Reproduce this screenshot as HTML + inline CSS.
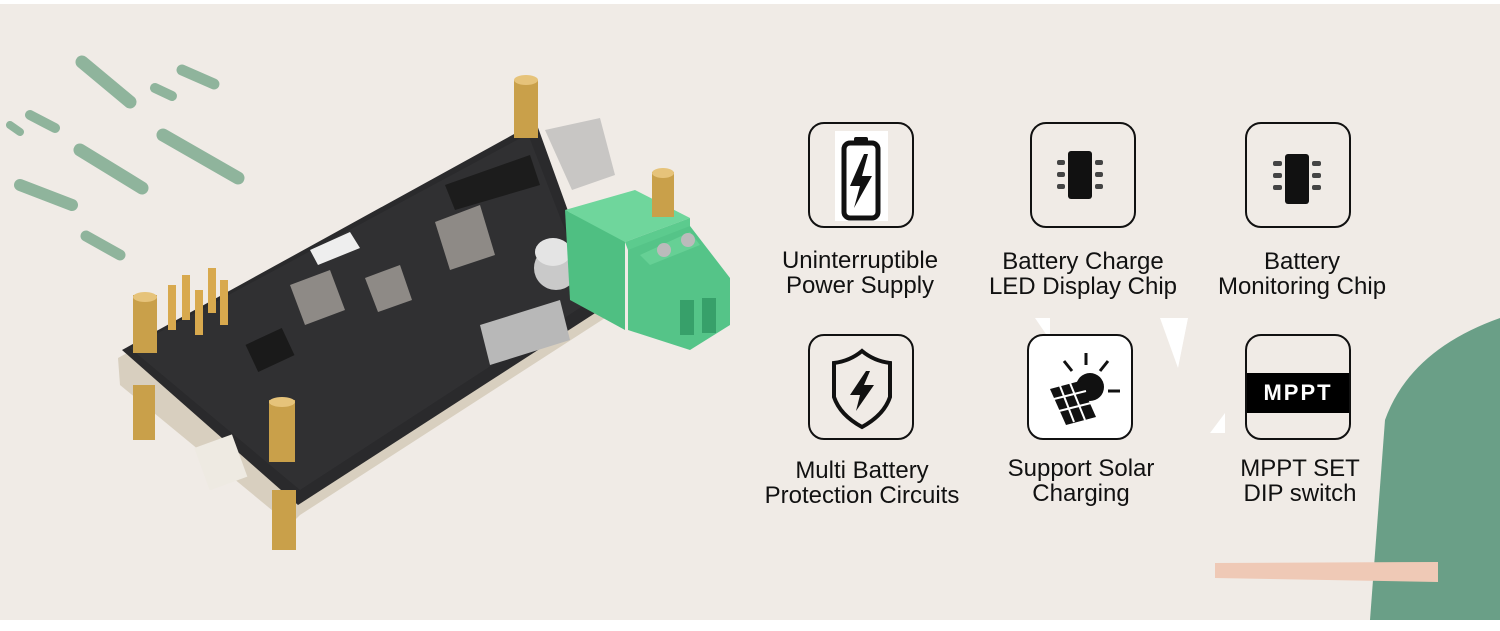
<!DOCTYPE html>
<html><head><meta charset="utf-8"><style>
html,body{margin:0;padding:0}
body{width:1500px;height:631px;position:relative;overflow:hidden;background:#fff;font-family:"Liberation Sans",Arial,sans-serif}
#bg{position:absolute;left:0;top:4px;width:1500px;height:616px;background:#f0ebe6}
.box{position:absolute;width:106px;height:106px;border:2px solid #111;border-radius:16px;box-sizing:border-box;background:transparent}
.lbl{position:absolute;width:260px;text-align:center;font-size:24px;line-height:25px;color:#111}
</style></head><body>
<div id="bg"></div>
<svg width="1500" height="631" style="position:absolute;left:0;top:0">
 <g stroke="#8fb49c" stroke-linecap="round" fill="none">
  <path d="M82 62 L130 102" stroke-width="13"/>
  <path d="M155 88 L172 96" stroke-width="10"/>
  <path d="M182 70 L214 84" stroke-width="11"/>
  <path d="M163 135 L238 178" stroke-width="13"/>
  <path d="M80 150 L142 188" stroke-width="13"/>
  <path d="M10 125 L20 132" stroke-width="8"/>
  <path d="M30 115 L55 128" stroke-width="10"/>
  <path d="M20 185 L72 205" stroke-width="12"/>
  <path d="M86 236 L120 255" stroke-width="11"/>
 </g>
 <path d="M1370 620 L1385 420 Q1410 350 1500 318 L1500 620 Z" fill="#6a9f87"/>
 <path d="M1215 563 L1438 562 L1438 582 L1215 578 Z" fill="#efc9b6"/>
 <path d="M1160 318 L1188 318 L1178 368 Z" fill="#fff"/>
 <path d="M1035 318 L1050 318 L1050 340 Z" fill="#fff"/>
 <path d="M1225 413 L1225 433 L1210 433 Z" fill="#fff"/>
 <!-- board -->
 <polygon points="118,358 536,128 605,318 300,515 290,525 120,385" fill="#d8cfbf"/>
 <polygon points="122,350 536,122 603,308 298,505" fill="#2a2a2c"/>
 <polygon points="130,348 528,134 592,300 300,490" fill="#303032"/>
 <g fill="#8e8a86"><polygon points="290,285 330,270 345,310 305,325"/><polygon points="365,278 400,265 412,300 378,312"/><polygon points="435,222 480,205 495,255 450,270"/></g>
 <polygon points="445,185 530,155 540,185 455,210" fill="#1c1c1c"/>
 <polygon points="310,250 350,232 360,248 318,265" fill="#eee"/>
 <rect x="250" y="335" width="40" height="30" fill="#1a1a1a" transform="rotate(-25 270 350)"/>
 <polygon points="480,325 560,300 570,340 490,365" fill="#b8b8b8"/>
 <ellipse cx="556" cy="268" rx="22" ry="22" fill="#c9c9c9"/><ellipse cx="553" cy="252" rx="18" ry="14" fill="#e4e4e4"/>
 <polygon points="545,130 600,118 615,175 572,190" fill="#c8c6c4"/>
 <!-- terminal -->
 <polygon points="565,210 625,240 625,330 570,300" fill="#4fbf82"/>
 <polygon points="565,210 635,190 690,218 625,242" fill="#6fd69c"/>
 <polygon points="625,242 690,218 690,232 640,255 628,250" fill="#5ccb8e"/>
 <polygon points="628,250 690,226 730,278 730,325 690,350 628,330" fill="#55c488"/>
 <polygon points="640,255 690,232 700,245 650,265" fill="#66d095"/>
 <rect x="680" y="300" width="14" height="35" fill="#37a06a"/><rect x="702" y="298" width="14" height="35" fill="#37a06a"/>
 <circle cx="664" cy="250" r="7" fill="#bbb"/><circle cx="688" cy="240" r="7" fill="#bbb"/>
 <g fill="#d8a94e"><rect x="168" y="285" width="8" height="45"/><rect x="182" y="275" width="8" height="45"/><rect x="195" y="290" width="8" height="45"/><rect x="208" y="268" width="8" height="45"/><rect x="220" y="280" width="8" height="45"/></g>
 <g fill="#c9a04a">
  <rect x="133" y="295" width="24" height="58"/><rect x="133" y="385" width="22" height="55"/>
  <rect x="269" y="400" width="26" height="62"/><rect x="272" y="490" width="24" height="60"/>
  <rect x="514" y="80" width="24" height="58"/>
  <rect x="652" y="172" width="22" height="45"/>
 </g>
 <g fill="#e6c37a"><ellipse cx="145" cy="297" rx="12" ry="5"/><ellipse cx="282" cy="402" rx="13" ry="5"/><ellipse cx="526" cy="80" rx="12" ry="5"/><ellipse cx="663" cy="173" rx="11" ry="5"/></g>
 <rect x="200" y="440" width="40" height="45" fill="#eeeae2" transform="rotate(-20 220 460)"/>
</svg>
<div class="box" style="left:808px;top:122px"></div>
<div style="position:absolute;left:835px;top:131px;width:53px;height:90px;background:#fff"></div>
<svg width="60" height="100" style="position:absolute;left:832px;top:130px">
 <rect x="22" y="7" width="14" height="6" rx="2" fill="#111"/>
 <rect x="12" y="13" width="34" height="75" rx="6" fill="none" stroke="#111" stroke-width="5"/>
 <polygon points="32,24 18,56 28,56 22,78 40,46 30,46 36,24" fill="#111"/>
</svg>
<div class="box" style="left:1030px;top:122px"></div>
<svg width="60" height="60" style="position:absolute;left:1053px;top:145px"><rect x="15" y="6" width="24" height="48" rx="3" fill="#111"/><g fill="#444"><rect x="4" y="15" width="8" height="5" rx="2"/><rect x="4" y="27" width="8" height="5" rx="2"/><rect x="4" y="39" width="8" height="5" rx="2"/><rect x="42" y="15" width="8" height="5" rx="2"/><rect x="42" y="27" width="8" height="5" rx="2"/><rect x="42" y="39" width="8" height="5" rx="2"/></g></svg>
<div class="box" style="left:1245px;top:122px"></div>
<svg width="60" height="60" style="position:absolute;left:1270px;top:152px"><rect x="15" y="2" width="24" height="50" rx="3" fill="#111"/><g fill="#444"><rect x="3" y="9" width="9" height="5" rx="2"/><rect x="3" y="21" width="9" height="5" rx="2"/><rect x="3" y="33" width="9" height="5" rx="2"/><rect x="42" y="9" width="9" height="5" rx="2"/><rect x="42" y="21" width="9" height="5" rx="2"/><rect x="42" y="33" width="9" height="5" rx="2"/></g></svg>
<div class="lbl" style="left:730px;top:248px">Uninterruptible<br>Power Supply</div>
<div class="lbl" style="left:953px;top:249px">Battery Charge<br>LED Display Chip</div>
<div class="lbl" style="left:1172px;top:249px">Battery<br>Monitoring Chip</div>

<div class="box" style="left:808px;top:334px"></div>
<svg width="80" height="90" style="position:absolute;left:822px;top:345px">
 <path d="M40 6 Q52 16 68 18 L68 52 Q62 70 40 82 Q18 70 12 52 L12 18 Q28 16 40 6 Z" fill="none" stroke="#111" stroke-width="4"/>
 <polygon points="44,26 28,50 38,50 34,66 52,40 42,40 48,26" fill="#111"/>
</svg>
<div class="box" style="left:1027px;top:334px;background:#fff"></div>
<svg width="90" height="90" style="position:absolute;left:1040px;top:345px">
 <g stroke="#111" stroke-width="3"><line x1="46" y1="8" x2="46" y2="20"/><line x1="24" y1="16" x2="32" y2="26"/><line x1="68" y1="16" x2="60" y2="26"/><line x1="68" y1="46" x2="80" y2="46"/></g>
 <circle cx="50" cy="42" r="14" fill="#111"/>
 <polygon points="10,44 40,36 56,72 26,80" fill="#111"/>
 <g stroke="#fff" stroke-width="2"><line x1="20" y1="41" x2="34" y2="77"/><line x1="30" y1="38" x2="45" y2="75"/><line x1="14" y1="54" x2="46" y2="46"/><line x1="19" y1="66" x2="51" y2="58"/></g>
</svg>
<div class="box" style="left:1245px;top:334px;overflow:hidden"><div style="position:absolute;left:0;top:37px;width:102px;height:40px;background:#000;color:#fff;font-weight:bold;font-size:22px;line-height:40px;text-align:center;letter-spacing:2px">MPPT</div></div>
<div class="lbl" style="left:732px;top:458px">Multi Battery<br>Protection Circuits</div>
<div class="lbl" style="left:951px;top:456px">Support Solar<br>Charging</div>
<div class="lbl" style="left:1170px;top:456px">MPPT SET<br>DIP switch</div>
</body></html>
